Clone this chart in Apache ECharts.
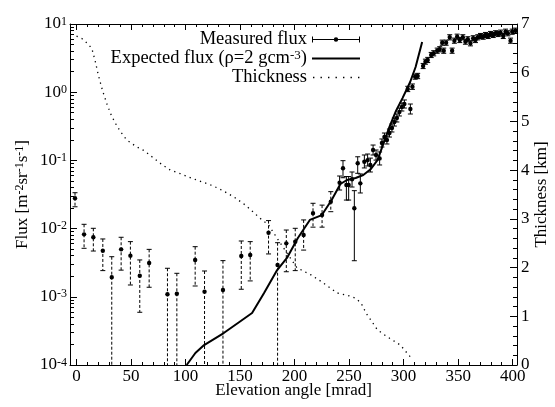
<!DOCTYPE html>
<html><head><meta charset="utf-8">
<script src="https://cdn.jsdelivr.net/npm/echarts@6/dist/echarts.min.js"></script>
<style>html,body{margin:0;padding:0;background:#fff}#c{width:555px;height:407px}</style>
</head><body><div id="c"></div>
<script>
const FONT = 'Liberation Serif';

// x axis ticks
const xTicks = [0, 50, 100, 150, 200, 250, 300, 350, 400];
const xMinorTicks = [10,20,30,40,60,70,80,90,110,120,130,140,160,170,180,190,210,220,230,240,260,270,280,290,310,320,330,340,360,370,380,390];
// left log axis minor ticks (log10 positions of 2..9 x 10^n)
const yMinorMant = [2,3,4,5,6,7,8,9];
const yDecades = [-4,-3,-2,-1,0];

// Measured flux, low-significance points (dashed error bars)
const lowX   = [-1.4, 6.9, 15.4, 24.1, 32.3, 40.9, 49.4, 58.0, 66.6, 83.4, 92.0, 108.8, 117.4, 134.3, 151.1, 159.3, 176.1, 184.4, 192.4, 200.6, 208.3, 216.9, 225.2, 233.2];
const lowY   = [0.0278, 0.00824, 0.00746, 0.00474, 0.00193, 0.00496, 0.00401, 0.00204, 0.00313, 0.00109, 0.00111, 0.00347, 0.00119, 0.00126, 0.00396, 0.00410, 0.00871, 0.00292, 0.00608, 0.00643, 0.00805, 0.0168, 0.0158, 0.0248];
const lowMin = [0.0209, 0.00514, 0.00469, 0.00242, 0, 0.00246, 0.00149, 0.000593, 0.00138, 0, 0, 0.00144, 0, 0, 0.00129, 0.00171, 0.00425, 0, 0.00233, 0.00242, 0.00484, 0.0105, 0.0105, 0.0177];
const lowMax = [0.0336, 0.01156, 0.0101, 0.00705, 0.00387, 0.00746, 0.00644, 0.00347, 0.00496, 0.00262, 0.00221, 0.00543, 0.00239, 0.00339, 0.00658, 0.00644, 0.0131, 0.00621, 0.00953, 0.0101, 0.0134, 0.0235, 0.0221, 0.0348];

// Measured flux, significant points (solid error bars)
const hiX   = [241.3, 244.4, 247.5, 249.6, 252.7, 254.8, 257.9, 260.3, 264.0, 267.0, 269.5, 272.0, 274.7, 278.0, 280.1, 282.4, 284.7, 287.0, 289.3, 291.5, 293.8, 296.1, 298.4, 300.7, 303.8, 306.2, 308.1, 310.6, 312.9, 317.9, 320.0, 322.1, 325.3, 327.6, 330.8, 333.1, 335.4, 336.8, 339.0, 342.3, 344.5, 346.6, 349.1, 351.5, 354.3, 356.7, 358.9, 361.3, 363.8, 365.9, 368.0, 370.5, 373.0, 375.1, 377.6, 379.7, 382.2, 384.3, 386.8, 388.9, 391.4, 393.5, 395.6, 398.1, 399.6, 402.7];
const hiY   = [0.0471, 0.0766, 0.0435, 0.0435, 0.0528, 0.0199, 0.0906, 0.0461, 0.0957, 0.101, 0.0857, 0.142, 0.120, 0.107, 0.180, 0.220, 0.199, 0.252, 0.299, 0.366, 0.419, 0.513, 0.607, 0.671, 1.114, 0.568, 1.205, 1.688, 1.728, 2.42, 2.80, 2.97, 3.51, 3.72, 4.06, 4.26, 5.32, 4.06, 5.32, 6.38, 4.06, 5.69, 6.51, 5.82, 6.38, 5.50, 5.97, 5.21, 6.17, 5.82, 6.38, 6.67, 6.51, 6.90, 6.67, 7.13, 6.90, 7.31, 7.13, 7.46, 6.67, 7.71, 7.31, 5.69, 7.71, 7.98];
const hiMin = [0.0368, 0.0557, 0.0262, 0.0262, 0.0407, 0.00338, 0.0647, 0.0333, 0.0775, 0.0828, 0.0676, 0.120, 0.101, 0.0857, 0.157, 0.192, 0.174, 0.220, 0.261, 0.319, 0.366, 0.448, 0.530, 0.586, 1.02, 0.479, 1.10, 1.55, 1.58, 2.22, 2.57, 2.72, 3.22, 3.41, 3.72, 3.91, 4.88, 3.72, 4.88, 5.85, 3.72, 5.22, 5.97, 5.34, 5.85, 5.05, 5.48, 4.78, 5.66, 5.34, 5.85, 6.12, 5.97, 6.33, 6.12, 6.54, 6.33, 6.71, 6.54, 6.84, 6.12, 7.07, 6.71, 5.22, 7.07, 7.32];
const hiMax = [0.0590, 0.0991, 0.0580, 0.0580, 0.0676, 0.0360, 0.113, 0.0633, 0.120, 0.124, 0.108, 0.168, 0.142, 0.133, 0.206, 0.252, 0.228, 0.288, 0.342, 0.419, 0.479, 0.586, 0.695, 0.769, 1.22, 0.671, 1.32, 1.84, 1.89, 2.64, 3.05, 3.24, 3.83, 4.06, 4.43, 4.65, 5.80, 4.43, 5.80, 6.96, 4.43, 6.21, 7.10, 6.35, 6.96, 6.00, 6.51, 5.68, 6.73, 6.35, 6.96, 7.27, 7.10, 7.52, 7.27, 7.78, 7.52, 7.97, 7.78, 8.14, 7.27, 8.41, 7.97, 6.21, 8.41, 8.70];

// Expected flux (rho = 2 g cm^-3)
const expX = [101, 109, 117, 135, 150, 161, 172, 184, 193, 203, 214, 225, 234, 242, 248, 256, 263, 270, 276, 282, 287, 293, 299, 306, 311, 317];
const expY = [1.0e-4, 1.5e-4, 1.96e-4, 2.94e-4, 4.35e-4, 5.78e-4, 1.14e-3, 2.47e-3, 3.71e-3, 7.28e-3, 0.0134, 0.0158, 0.0262, 0.0451, 0.0516, 0.0552, 0.0611, 0.0748, 0.101, 0.185, 0.310, 0.53, 0.82, 1.41, 2.34, 5.45];

// Thickness [km]
const thickX = [0, 5, 10, 14, 17, 20, 24, 28, 32, 36, 40, 46, 55, 62, 70, 78, 86, 95, 105, 115, 125, 135, 145, 155, 163, 170, 176, 184, 190, 196, 202, 208, 215, 224, 239, 250, 256, 261, 266, 270, 276, 285, 297, 306];
const thickY = [6.75, 6.70, 6.60, 6.50, 6.25, 5.95, 5.62, 5.35, 5.12, 4.95, 4.80, 4.62, 4.48, 4.40, 4.26, 4.12, 4.00, 3.93, 3.84, 3.76, 3.68, 3.57, 3.44, 3.28, 3.12, 2.98, 2.88, 2.60, 2.40, 2.20, 2.00, 1.93, 1.85, 1.72, 1.48, 1.42, 1.37, 1.27, 1.05, 0.92, 0.72, 0.58, 0.41, 0.17];

const zip = (...a) => a[0].map((_, i) => a.map(v => v[i]));
const yMinorTicks = [];
yDecades.forEach(d => yMinorMant.forEach(m => yMinorTicks.push(d + Math.log10(m))));

function errRender(dashed) {
  return function (params, api) {
    const x = api.value(0), y = api.value(1), lo = api.value(2), hi = api.value(3);
    const p = api.coord([x, y]);
    const t = api.coord([x, hi]);
    const clamped = !(lo > 1e-4);
    const b = api.coord([x, clamped ? 1e-4 : lo]);
    const ls = { stroke: '#000', lineWidth: 1, lineDash: dashed ? [3, 2] : null };
    const cs = { stroke: '#000', lineWidth: 1 };
    const ch = [
      { type: 'line', shape: { x1: p[0], y1: t[1], x2: p[0], y2: b[1] }, style: ls },
      { type: 'line', shape: { x1: p[0] - 2.5, y1: t[1], x2: p[0] + 2.5, y2: t[1] }, style: cs }
    ];
    if (!clamped) ch.push({ type: 'line', shape: { x1: p[0] - 2.5, y1: b[1], x2: p[0] + 2.5, y2: b[1] }, style: cs });
    ch.push({ type: 'circle', shape: { cx: p[0], cy: p[1], r: 2.2 }, style: { fill: '#000' } });
    return { type: 'group', children: ch };
  };
}

const axisCommon = { onZero: false, lineStyle: { color: '#000', width: 1 } };
const noLine = { show: false, onZero: false };
const lblStyle = { color: '#000', fontFamily: FONT, fontSize: 17 };
const xBase = { type: 'value', min: -6, max: 404, splitLine: { show: false }, nameMoveOverlap: false };
const iconStyle = { color: '#000', borderColor: '#000', borderWidth: 0 };

// legend sample icons (48 x 6 box)
const BOX = 'M0,0L48,0 M0,6L48,6 ';
const iconMeasured = 'path://M0,0h1v6h-1z M47,0h1v6h-1z M0,2.5h48v1h-48z M21.8,3a2.2,2.2 0 1,1 4.4,0a2.2,2.2 0 1,1 -4.4,0z';
const iconExpected = 'path://' + BOX + 'M0,2h48v2h-48z';
let dots = '';
[1, 8.5, 16, 23.5, 31, 38.5, 46].forEach(d => { dots += 'M' + d + ',2.3h1.4v1.4h-1.4z '; });
const iconThick = 'path://' + BOX + dots;

const chart = echarts.init(document.getElementById('c'), null, { renderer: 'canvas' });
chart.setOption({
  animation: false,
  backgroundColor: '#fff',
  grid: { left: 70, right: 38, top: 24, bottom: 42, containLabel: false, outerBoundsMode: 'none' },
  xAxis: [
    Object.assign({}, xBase, {
      position: 'bottom',
      axisLine: axisCommon,
      axisTick: { inside: true, length: 6, customValues: xTicks, lineStyle: { color: '#000' } },
      axisLabel: Object.assign({ customValues: xTicks, margin: 3 }, lblStyle),
      name: 'Elevation angle [mrad]', nameLocation: 'middle', nameGap: 17,
      nameTextStyle: { color: '#000', fontFamily: FONT, fontSize: 17 }
    }),
    Object.assign({}, xBase, {
      position: 'bottom', axisLine: noLine,
      axisTick: { inside: true, length: 3, customValues: xMinorTicks, lineStyle: { color: '#000' } },
      axisLabel: { show: false }
    }),
    Object.assign({}, xBase, {
      position: 'top', axisLine: axisCommon,
      axisTick: { inside: true, length: 6, customValues: xTicks, lineStyle: { color: '#000' } },
      axisLabel: { show: false }
    }),
    Object.assign({}, xBase, {
      position: 'top', axisLine: noLine,
      axisTick: { inside: true, length: 3, customValues: xMinorTicks, lineStyle: { color: '#000' } },
      axisLabel: { show: false }
    })
  ],
  yAxis: [
    {
      type: 'log', logBase: 10, min: 1e-4, max: 10, position: 'left',
      axisLine: axisCommon, nameMoveOverlap: false,
      axisTick: { inside: true, length: 7, lineStyle: { color: '#000' } },
      splitLine: { show: false },
      axisLabel: {
        margin: 3, color: '#000',
        formatter: v => '{b|10}{s|' + Math.round(Math.log10(v)) + '}',
        rich: {
          b: { fontFamily: FONT, fontSize: 17, color: '#000' },
          s: { fontFamily: FONT, fontSize: 12, color: '#000', verticalAlign: 'top' }
        }
      },
      name: '{n|Flux [m}{s|-2}{n|sr}{s|-1}{n|s}{s|-1}{n|]}',
      nameLocation: 'middle', nameRotate: 90, nameGap: 39,
      nameTextStyle: {
        rich: {
          n: { fontFamily: FONT, fontSize: 17, color: '#000' },
          s: { fontFamily: FONT, fontSize: 12, color: '#000', verticalAlign: 'top' }
        }
      }
    },
    {
      type: 'value', min: -4, max: 1, position: 'left', nameMoveOverlap: false,
      axisLine: noLine,
      axisTick: { inside: true, length: 4, customValues: yMinorTicks, lineStyle: { color: '#000' } },
      axisLabel: { show: false }, splitLine: { show: false }
    },
    {
      type: 'value', min: 0, max: 7, interval: 1, position: 'right', nameMoveOverlap: false,
      axisLine: axisCommon,
      axisTick: { inside: true, length: 7, lineStyle: { color: '#000' } },
      minorTick: { show: true, splitNumber: 5, length: 4, lineStyle: { color: '#000' } },
      splitLine: { show: false }, minorSplitLine: { show: false },
      axisLabel: Object.assign({ margin: 4 }, lblStyle),
      name: 'Thickness [km]', nameLocation: 'middle', nameRotate: 90, nameGap: 16,
      nameTextStyle: { color: '#000', fontFamily: FONT, fontSize: 17 }
    }
  ],
  legend: {
    orient: 'vertical', right: 190, top: 25, align: 'right',
    itemWidth: 48, itemHeight: 6, itemGap: 0,
    textStyle: {
      color: '#000', fontFamily: FONT, fontSize: 18.5, lineHeight: 18,
      rich: {
        n: { fontFamily: FONT, fontSize: 18.5, lineHeight: 18, color: '#000' },
        s: { fontFamily: FONT, fontSize: 13, color: '#000', verticalAlign: 'top' }
      }
    },
    formatter: name => name === 'Expected flux' ? '{n|Expected flux (ρ=2 gcm}{s|-3}{n|)}' : '{n|' + name + '}',
    data: [
      { name: 'Measured flux', icon: iconMeasured, itemStyle: iconStyle },
      { name: 'Expected flux', icon: iconExpected, itemStyle: iconStyle },
      { name: 'Thickness', icon: iconThick, itemStyle: iconStyle }
    ]
  },
  series: [
    {
      name: 'Measured flux', type: 'custom', xAxisIndex: 0, yAxisIndex: 0,
      itemStyle: { color: '#000' },
      renderItem: errRender(true), encode: { x: 0, y: 1 },
      data: zip(lowX, lowY, lowMin, lowMax), z: 3
    },
    {
      name: 'Measured flux', type: 'custom', xAxisIndex: 0, yAxisIndex: 0,
      itemStyle: { color: '#000' },
      renderItem: errRender(false), encode: { x: 0, y: 1 },
      data: zip(hiX, hiY, hiMin, hiMax), z: 3
    },
    {
      name: 'Expected flux', type: 'line', xAxisIndex: 0, yAxisIndex: 0,
      symbol: 'none', color: '#000',
      lineStyle: { color: '#000', width: 2 },
      data: zip(expX, expY), z: 4
    },
    {
      name: 'Thickness', type: 'line', xAxisIndex: 0, yAxisIndex: 2,
      symbol: 'none', color: '#000',
      lineStyle: { color: '#000', width: 1.3, type: [1.3, 4.2] },
      data: zip(thickX, thickY), z: 2
    }
  ]
});
</script></body></html>
